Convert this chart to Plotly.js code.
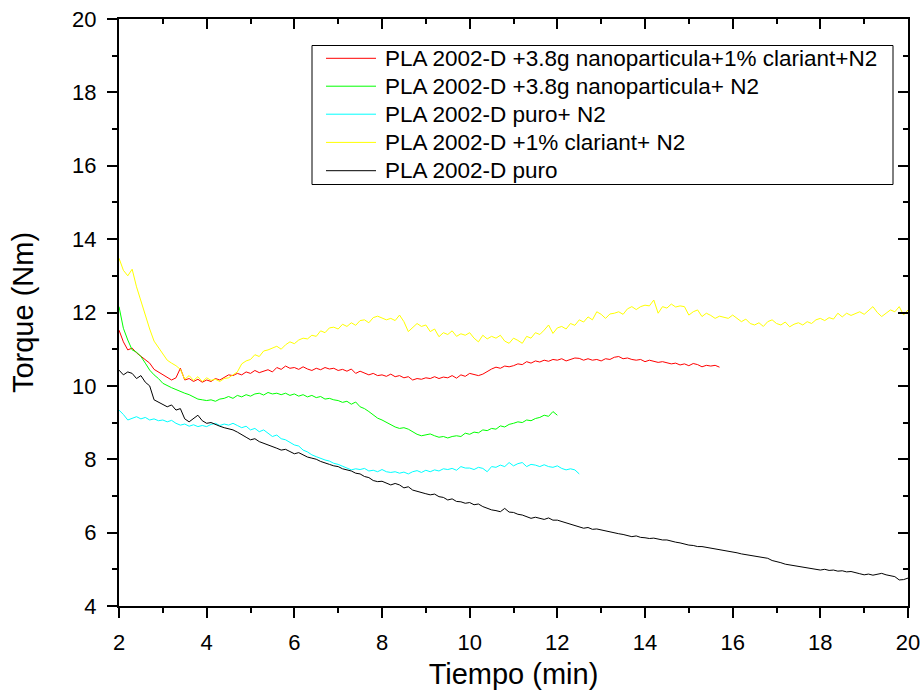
<!DOCTYPE html>
<html>
<head>
<meta charset="utf-8">
<script src="https://cdn.plot.ly/plotly-3.0.1.min.js"></script>
<style>html,body{margin:0;padding:0;background:#fff;}#chart{width:924px;height:693px;}</style>
</head>
<body>
<div id="chart"></div>
<script>
// Time axis (min), sampled every 0.1 min
const tiempo = [
2.0,2.1,2.2,2.3,2.4,2.5,2.6,2.7,2.8,2.9,
3.0,3.1,3.2,3.3,3.4,3.5,3.6,3.7,3.8,3.9,
4.0,4.1,4.2,4.3,4.4,4.5,4.6,4.7,4.8,4.9,
5.0,5.1,5.2,5.3,5.4,5.5,5.6,5.7,5.8,5.9,
6.0,6.1,6.2,6.3,6.4,6.5,6.6,6.7,6.8,6.9,
7.0,7.1,7.2,7.3,7.4,7.5,7.6,7.7,7.8,7.9,
8.0,8.1,8.2,8.3,8.4,8.5,8.6,8.7,8.8,8.9,
9.0,9.1,9.2,9.3,9.4,9.5,9.6,9.7,9.8,9.9,
10.0,10.1,10.2,10.3,10.4,10.5,10.6,10.7,10.8,10.9,
11.0,11.1,11.2,11.3,11.4,11.5,11.6,11.7,11.8,11.9,
12.0,12.1,12.2,12.3,12.4,12.5,12.6,12.7,12.8,12.9,
13.0,13.1,13.2,13.3,13.4,13.5,13.6,13.7,13.8,13.9,
14.0,14.1,14.2,14.3,14.4,14.5,14.6,14.7,14.8,14.9,
15.0,15.1,15.2,15.3,15.4,15.5,15.6,15.7,15.8,15.9,
16.0,16.1,16.2,16.3,16.4,16.5,16.6,16.7,16.8,16.9,
17.0,17.1,17.2,17.3,17.4,17.5,17.6,17.7,17.8,17.9,
18.0,18.1,18.2,18.3,18.4,18.5,18.6,18.7,18.8,18.9,
19.0,19.1,19.2,19.3,19.4,19.5,19.6,19.7,19.8,19.9,
20.0
];

const nombres = [
  "PLA 2002-D +3.8g nanoparticula+1% clariant+N2",
  "PLA 2002-D +3.8g nanoparticula+ N2",
  "PLA 2002-D puro+ N2",
  "PLA 2002-D +1% clariant+ N2",
  "PLA 2002-D puro"
];

// Torque (Nm)
const torqueNanoClariantN2 = [
11.52,11.20,10.98,11.03,10.90,10.80,10.72,10.62,10.45,10.38,
10.30,10.25,10.16,10.22,10.48,10.16,10.20,10.12,10.18,10.10,
10.16,10.12,10.20,10.16,10.22,10.30,10.28,10.34,10.30,10.38,
10.34,10.42,10.36,10.39,10.44,10.38,10.50,10.45,10.54,10.48,
10.50,10.45,10.52,10.46,10.42,10.48,10.44,10.50,10.46,10.48,
10.42,10.45,10.40,10.46,10.34,10.40,10.36,10.30,10.34,10.28,
10.30,10.26,10.32,10.25,10.28,10.22,10.25,10.16,10.20,10.18,
10.22,10.20,10.25,10.20,10.24,10.22,10.28,10.21,10.30,10.26,
10.34,10.30,10.28,10.32,10.40,10.46,10.51,10.48,10.54,10.52,
10.55,10.60,10.58,10.66,10.62,10.68,10.65,10.70,10.67,10.72,
10.70,10.74,10.68,10.72,10.76,10.75,10.70,10.74,10.70,10.72,
10.68,10.74,10.72,10.78,10.80,10.74,10.76,10.72,10.70,10.72,
10.66,10.70,10.68,10.64,10.66,10.63,10.60,10.62,10.57,10.60,
10.55,10.61,10.58,10.52,10.56,10.54,10.56,10.51
];

const torqueNanoN2 = [
12.16,11.57,11.25,10.98,10.92,10.80,10.62,10.43,10.30,10.20,
10.07,10.00,9.95,9.90,9.84,9.80,9.76,9.70,9.64,9.62,
9.60,9.62,9.58,9.64,9.66,9.71,9.66,9.74,9.70,9.76,
9.72,9.78,9.80,9.75,9.82,9.78,9.80,9.76,9.80,9.74,
9.78,9.72,9.76,9.70,9.74,9.68,9.71,9.64,9.66,9.62,
9.60,9.55,9.58,9.50,9.56,9.43,9.38,9.30,9.22,9.12,
9.07,9.00,8.95,8.88,8.84,8.86,8.82,8.75,8.68,8.64,
8.66,8.69,8.64,8.60,8.62,8.58,8.62,8.64,8.62,8.71,
8.68,8.74,8.72,8.80,8.78,8.84,8.82,8.91,8.88,8.95,
8.98,9.02,9.00,9.07,9.05,9.11,9.14,9.20,9.17,9.30,
9.20
];

const torquePuroN2 = [
9.34,9.22,9.07,9.12,9.16,9.10,9.14,9.07,9.10,9.05,
9.07,9.02,9.06,8.98,8.93,8.96,8.90,8.94,8.89,8.92,
8.89,8.95,8.98,8.92,8.96,8.93,8.98,8.92,8.86,8.90,
8.80,8.84,8.75,8.80,8.70,8.62,8.66,8.56,8.53,8.45,
8.39,8.36,8.25,8.20,8.12,8.07,8.02,7.98,7.95,7.89,
7.86,7.80,7.76,7.71,7.74,7.72,7.75,7.68,7.70,7.66,
7.72,7.66,7.64,7.66,7.62,7.65,7.60,7.66,7.69,7.64,
7.70,7.66,7.71,7.68,7.74,7.72,7.75,7.70,7.80,7.76,
7.76,7.72,7.78,7.75,7.66,7.80,7.78,7.84,7.80,7.91,
7.82,7.88,7.91,7.80,7.86,7.84,7.80,7.85,7.80,7.78,
7.82,7.75,7.71,7.74,7.71,7.60
];

const torqueClariantN2 = [
13.48,13.15,13.00,13.18,12.70,12.30,11.95,11.55,11.22,11.05,
10.85,10.70,10.62,10.55,10.45,10.18,10.28,10.15,10.25,10.12,
10.22,10.15,10.18,10.12,10.20,10.22,10.30,10.38,10.60,10.68,
10.72,10.85,10.80,10.95,10.98,11.02,11.08,11.00,11.12,11.20,
11.15,11.25,11.30,11.28,11.38,11.35,11.50,11.45,11.58,11.60,
11.55,11.68,11.62,11.72,11.65,11.78,11.80,11.72,11.86,11.90,
11.86,11.80,11.84,11.78,11.93,11.75,11.48,11.58,11.70,11.62,
11.66,11.48,11.55,11.34,11.45,11.40,11.50,11.35,11.42,11.38,
11.45,11.30,11.20,11.38,11.28,11.35,11.30,11.38,11.22,11.16,
11.30,11.24,11.16,11.35,11.30,11.45,11.40,11.52,11.66,11.43,
11.58,11.62,11.55,11.70,11.65,11.80,11.74,11.88,11.80,12.02,
11.95,11.84,11.96,11.98,12.02,11.95,12.10,12.16,12.08,12.16,
12.20,12.18,12.34,11.98,12.16,12.12,12.23,12.15,12.18,12.16,
11.93,12.02,12.07,11.89,11.98,11.92,11.84,11.90,11.86,11.84,
11.93,11.85,11.75,11.82,11.70,11.66,11.72,11.62,11.75,11.80,
11.70,11.66,11.74,11.61,11.68,11.72,11.66,11.75,11.70,11.80,
11.84,11.78,11.86,11.82,11.98,11.88,11.98,11.92,11.96,12.02,
11.95,12.05,12.16,12.00,11.89,11.98,12.07,12.02,12.16,11.93,
12.07
];

const torquePuro = [
10.43,10.30,10.38,10.34,10.20,10.28,10.10,10.00,9.62,9.55,
9.50,9.43,9.48,9.34,9.38,9.10,9.02,9.10,9.20,9.05,
8.98,9.00,8.94,8.90,8.86,8.84,8.80,8.74,8.68,8.60,
8.53,8.56,8.48,8.44,8.40,8.36,8.30,8.25,8.27,8.21,
8.15,8.18,8.12,8.06,8.03,8.00,7.94,7.89,7.86,7.82,
7.80,7.74,7.71,7.68,7.62,7.60,7.53,7.50,7.42,7.39,
7.40,7.36,7.30,7.34,7.30,7.22,7.25,7.16,7.12,7.10,
7.06,7.03,7.05,6.98,6.96,6.89,6.92,6.85,6.84,6.80,
6.82,6.76,6.78,6.71,6.66,6.62,6.60,6.57,6.66,6.56,
6.55,6.50,6.48,6.44,6.39,6.42,6.38,6.36,6.40,6.34,
6.34,6.30,6.26,6.24,6.20,6.15,6.12,6.14,6.09,6.10,
6.07,6.05,6.02,6.00,5.97,5.95,5.92,5.89,5.91,5.87,
5.86,5.84,5.85,5.82,5.80,5.80,5.76,5.74,5.72,5.68,
5.66,5.65,5.62,5.62,5.60,5.57,5.55,5.52,5.50,5.50,
5.48,5.45,5.42,5.40,5.38,5.36,5.33,5.31,5.30,5.24,
5.22,5.18,5.14,5.12,5.10,5.07,5.06,5.03,5.02,5.00,
4.98,5.00,4.97,4.98,4.95,4.96,4.93,4.94,4.90,4.88,
4.85,4.87,4.84,4.86,4.89,4.85,4.82,4.80,4.71,4.72,
4.76
];

const series = [torqueNanoClariantN2, torqueNanoN2, torquePuroN2, torqueClariantN2, torquePuro];
const colores = ["#ff0000", "#00ff00", "#00ffff", "#ffff00", "#000000"];

const FONT = "Liberation Sans, Arial, Helvetica, sans-serif";

const W = 924, H = 693;
const M = { l: 119, r: 16, t: 19, b: 87 };
const PW = W - M.l - M.r, PH = H - M.t - M.b;
const px2x = p => (p - M.l) / PW;   // pixel -> paper x
const py2y = p => 1 - (p - M.t) / PH; // pixel -> paper y

const traces = series.map((ys, i) => ({
  type: "scatter",
  mode: "lines",
  name: nombres[i],
  x: tiempo.slice(0, ys.length),
  y: ys,
  line: { color: colores[i], width: 1 },
  showlegend: false,
  hoverinfo: "x+y+name"
}));

// dummy trace to activate mirrored (top/right) axes
traces.push({
  type: "scatter", mode: "lines", x: [null], y: [null],
  xaxis: "x2", yaxis: "y2", showlegend: false, hoverinfo: "skip"
});

// Legend box (drawn as layout shapes + annotations)
const legBox = { x0: 312, x1: 893, y0: 45.5, y1: 184.5 };
const legRowsY = [58.3, 86.2, 114.2, 142.4, 170.7];
const legLineX = [326, 376];
const legTextX = 383;

const shapes = [{
  type: "rect", xref: "paper", yref: "paper",
  x0: px2x(legBox.x0), x1: px2x(legBox.x1), y0: py2y(legBox.y1), y1: py2y(legBox.y0),
  line: { color: "#000", width: 1 }, fillcolor: "#fff", layer: "above"
}];
const annotations = [];
nombres.forEach((nm, i) => {
  shapes.push({
    type: "line", xref: "paper", yref: "paper",
    x0: px2x(legLineX[0]), x1: px2x(legLineX[1]),
    y0: py2y(legRowsY[i]), y1: py2y(legRowsY[i]),
    line: { color: colores[i], width: 1 }, layer: "above"
  });
  annotations.push({
    xref: "paper", yref: "paper", x: px2x(legTextX), y: py2y(legRowsY[i]),
    xanchor: "left", yanchor: "middle", showarrow: false, text: nm,
    font: { family: FONT, size: 22.5, color: "#000" }
  });
});

const axisCommon = {
  showline: true, linecolor: "#000", linewidth: 2,
  showgrid: false, zeroline: false,
  tickcolor: "#000", tickwidth: 2, ticklen: 10,
  tickfont: { family: FONT, size: 22, color: "#000" }
};

const layout = {
  width: W, height: H,
  margin: { l: M.l, r: M.r, t: M.t, b: M.b, pad: 0 },
  paper_bgcolor: "#fff", plot_bgcolor: "#fff",
  font: { family: FONT, color: "#000" },
  showlegend: false,
  xaxis: Object.assign({}, axisCommon, {
    range: [2, 20], tick0: 2, dtick: 2, ticks: "outside",
    minor: { dtick: 1, ticks: "outside", ticklen: 5, tickwidth: 2, tickcolor: "#000" },
    ticklabelstandoff: 6,
    title: { text: "Tiempo (min)", font: { family: FONT, size: 29, color: "#000" }, standoff: 9 }
  }),
  yaxis: Object.assign({}, axisCommon, {
    range: [4, 20], tick0: 4, dtick: 2, ticks: "outside",
    minor: { dtick: 1, ticks: "outside", ticklen: 5, tickwidth: 2, tickcolor: "#000" },
    ticklabelstandoff: 6,
    title: { text: "Torque (Nm)", font: { family: FONT, size: 29, color: "#000" }, standoff: 30 }
  }),
  xaxis2: Object.assign({}, axisCommon, {
    overlaying: "x", side: "top", anchor: "y2",
    range: [2, 20], tick0: 2, dtick: 2, ticks: "inside", showticklabels: false,
    minor: { dtick: 1, ticks: "inside", ticklen: 5, tickwidth: 2, tickcolor: "#000" }
  }),
  yaxis2: Object.assign({}, axisCommon, {
    overlaying: "y", side: "right", anchor: "x2",
    range: [4, 20], tick0: 4, dtick: 2, ticks: "inside", showticklabels: false,
    minor: { dtick: 1, ticks: "inside", ticklen: 5, tickwidth: 2, tickcolor: "#000" }
  }),
  shapes: shapes,
  annotations: annotations
};

Plotly.newPlot("chart", traces, layout, { displayModeBar: false, staticPlot: true });
</script>
</body>
</html>
